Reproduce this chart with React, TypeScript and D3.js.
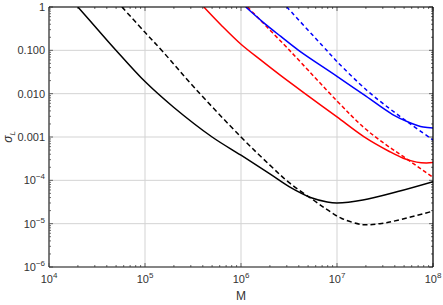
import React from "react";
import * as d3 from "d3";

// values (M, sigma_L)
const blackSolidM = [2.0e4, 3.16e4, 4.9e4, 1e5, 2.0e5, 5.0e5, 1e6, 2.0e6, 3.2e6, 5.5e6, 7.9e6, 1e7, 1.86e7, 4.3e7, 1e8];
const blackSolidS = [1, 0.316, 0.105, 0.019, 4.8e-3, 1e-3, 3.8e-4, 1.41e-4, 7.1e-5, 3.9e-5, 3.16e-5, 3.0e-5, 3.5e-5, 5.5e-5, 9.3e-5];

const blackDashM = [5.75e4, 1e5, 1.55e5, 3.3e5, 1e6, 2.0e6, 3.2e6, 5.5e6, 7.9e6, 1.12e7, 1.86e7, 2.8e7, 4.3e7, 1e8];
const blackDashS = [1, 0.26, 0.091, 0.0135, 1e-3, 2.24e-4, 8.7e-5, 3.7e-5, 2.1e-5, 1.32e-5, 9.5e-6, 1.0e-5, 1.2e-5, 1.95e-5];

const redSolidM = [4.1e5, 6.3e5, 1e6, 1.6e6, 2.6e6, 5.0e6, 1e7, 1.9e7, 3.55e7, 4.9e7, 6.76e7, 8.5e7, 1e8];
const redSolidS = [1, 0.37, 0.138, 0.06, 0.026, 8.9e-3, 2.9e-3, 1.02e-3, 4.57e-4, 3.24e-4, 2.63e-4, 2.51e-4, 2.57e-4];

const redDashM = [1.17e6, 3.2e6, 1e7, 1.9e7, 3.16e7, 4.9e7, 1e8];
const redDashS = [1, 0.1, 6.8e-3, 1.66e-3, 6.9e-4, 3.55e-4, 1.17e-4];

const blueSolidM = [1.12e6, 1.78e6, 2.6e6, 3.98e6, 1e7, 1.9e7, 3.8e7, 5.75e7, 7.9e7, 1e8];
const blueSolidS = [1, 0.407, 0.209, 0.1, 0.0251, 9.5e-3, 3.3e-3, 2.14e-3, 1.7e-3, 1.62e-3];

const blueDashM = [3.0e6, 7.8e6, 1e7, 2.04e7, 3.55e7, 5.75e7, 1e8];
const blueDashS = [1, 0.1, 0.055, 0.012, 4.47e-3, 2.04e-3, 8.5e-4];

const xTickExps = [4, 5, 6, 7, 8];
const yTicks = [1, 0.1, 0.01, 0.001, 1e-4, 1e-5, 1e-6];
const yTickText = ["1", "0.100", "0.010", "0.001", "10|-4", "10|-5", "10|-6"];

const W = 443;
const H = 305;
const margin = { left: 49, right: 10, top: 7, bottom: 38 };
const font = "'Liberation Sans', Arial, sans-serif";

export default function App() {
  const x = d3.scaleLog().domain([1e4, 1e8]).range([margin.left, W - margin.right]);
  const y = d3.scaleLog().domain([1e-6, 1]).range([H - margin.bottom, margin.top]);
  const [x0, x1] = x.range();
  const [y0, y1] = [y.range()[1], y.range()[0]]; // top, bottom

  const line = d3
    .line<[number, number]>()
    .x((d) => x(d[0]))
    .y((d) => y(d[1]))
    .curve(d3.curveCatmullRom.alpha(0.5));

  const zip = (a: number[], b: number[]) => a.map((v, i) => [v, b[i]] as [number, number]);

  const series = [
    { m: blackSolidM, s: blackSolidS, color: "#000", dash: null },
    { m: blackDashM, s: blackDashS, color: "#000", dash: "5,3" },
    { m: redSolidM, s: redSolidS, color: "#ff0000", dash: null },
    { m: redDashM, s: redDashS, color: "#ff0000", dash: "4,2.5" },
    { m: blueSolidM, s: blueSolidS, color: "#0000ff", dash: null },
    { m: blueDashM, s: blueDashS, color: "#0000ff", dash: "4,3" },
  ];

  // minor tick positions
  const xMinor: number[] = [];
  for (let e = 4; e < 8; e++) for (let k = 2; k <= 9; k++) xMinor.push(k * Math.pow(10, e));
  const yMinor: number[] = [];
  for (let e = -6; e < 0; e++) for (let k = 2; k <= 9; k++) yMinor.push(k * Math.pow(10, e));

  const tickColor = "#444";

  return (
    <svg width={W} height={H} style={{ position: "absolute", left: 0, top: 0, background: "#fff" }}>
      <defs>
        <clipPath id="plotClip">
          <rect x={x0} y={y0} width={x1 - x0} height={y1 - y0} />
        </clipPath>
      </defs>
      {/* grid */}
      <g stroke="#d3d3d3" strokeWidth={1}>
        {xTickExps.map((e) => (
          <line key={"gx" + e} x1={x(Math.pow(10, e))} x2={x(Math.pow(10, e))} y1={y0} y2={y1} />
        ))}
        {yTicks.map((v) => (
          <line key={"gy" + v} x1={x0} x2={x1} y1={y(v)} y2={y(v)} />
        ))}
      </g>
      {/* ticks, inward on all sides */}
      <g stroke={tickColor} strokeWidth={0.8}>
        {xTickExps.map((e) => {
          const px = x(Math.pow(10, e));
          return (
            <g key={"tx" + e}>
              <line x1={px} x2={px} y1={y1} y2={y1 - 4} />
              <line x1={px} x2={px} y1={y0} y2={y0 + 4} />
            </g>
          );
        })}
        {xMinor.map((v) => (
          <g key={"mx" + v}>
            <line x1={x(v)} x2={x(v)} y1={y1} y2={y1 - 2} />
            <line x1={x(v)} x2={x(v)} y1={y0} y2={y0 + 2} />
          </g>
        ))}
        {yTicks.map((v) => (
          <g key={"ty" + v}>
            <line x1={x0} x2={x0 + 4} y1={y(v)} y2={y(v)} />
            <line x1={x1} x2={x1 - 4} y1={y(v)} y2={y(v)} />
          </g>
        ))}
        {yMinor.map((v) => (
          <g key={"my" + v}>
            <line x1={x0} x2={x0 + 2} y1={y(v)} y2={y(v)} />
            <line x1={x1} x2={x1 - 2} y1={y(v)} y2={y(v)} />
          </g>
        ))}
      </g>
      {/* curves */}
      <g clipPath="url(#plotClip)" fill="none" strokeWidth={1.5}>
        {series.map((sr, i) => (
          <path
            key={i}
            d={line(zip(sr.m, sr.s)) || ""}
            stroke={sr.color}
            strokeDasharray={sr.dash || undefined}
          />
        ))}
      </g>
      {/* frame */}
      <line x1={x0} x2={x0} y1={y0} y2={y1} stroke="#555" strokeWidth={1.5} />
      <line x1={x0} x2={x1} y1={y1} y2={y1} stroke="#222" strokeWidth={1.2} />
      <line x1={x0} x2={x1} y1={y0} y2={y0} stroke="#000" strokeWidth={1.2} />
      <line x1={x1} x2={x1} y1={y0} y2={y1} stroke="#000" strokeWidth={1.2} />
      {/* tick labels */}
      <g fontFamily={font} fontSize={11} fill="#333">
        {xTickExps.map((e) => (
          <text key={"lx" + e} x={x(Math.pow(10, e))} y={y1 + 16} textAnchor="middle">
            10<tspan dy={-5} fontSize={8}>{e}</tspan>
          </text>
        ))}
        {yTicks.map((v, i) => {
          const parts = yTickText[i].split("|");
          return (
            <text key={"ly" + v} x={x0 - 4} y={y(v) + 4} textAnchor="end">
              {parts.length === 1 ? (
                parts[0]
              ) : (
                <>
                  {parts[0]}
                  <tspan dy={-5} fontSize={8}>{"\u2212" + parts[1].slice(1)}</tspan>
                </>
              )}
            </text>
          );
        })}
        <text x={(x0 + x1) / 2} y={300} textAnchor="middle" fontSize={12}>
          M
        </text>
        <text transform={`translate(12,${(y0 + y1) / 2}) rotate(-90)`} textAnchor="middle" fontSize={12}>
          <tspan fontStyle="italic">σ</tspan>
          <tspan dy={3} fontSize={8} fontStyle="italic">L</tspan>
        </text>
      </g>
    </svg>
  );
}
